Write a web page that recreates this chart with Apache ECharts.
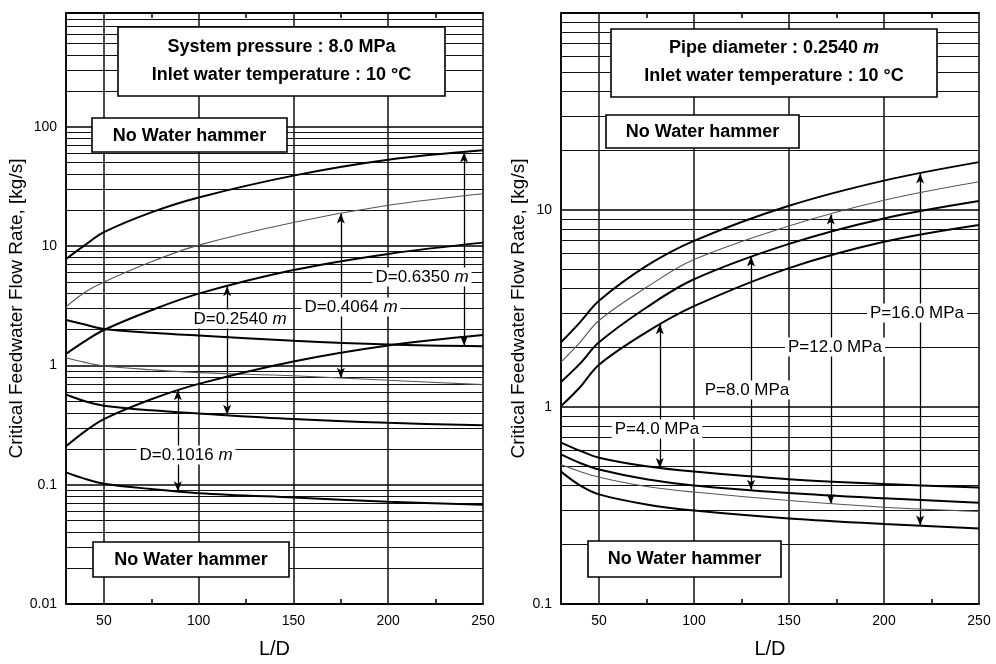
<!DOCTYPE html>
<html>
<head>
<meta charset="utf-8">
<title>Critical feedwater flow rate</title>
<script src="https://cdn.jsdelivr.net/npm/echarts@6/dist/echarts.min.js"></script>
<style>
  html, body { margin: 0; padding: 0; background: #fff; }
  #main { width: 996px; height: 664px; }
</style>
</head>
<body>
<div id="main"></div>
<script>
// L/D sample positions shared by every curve
var ld = [30, 40, 50, 75, 100, 150, 200, 250];
var ldLabels = [50, 100, 150, 200, 250];
var ldMinorTicks = [75, 125, 175, 225];

// left panel: system pressure 8.0 MPa, one pair of curves per pipe diameter
var d0635Upper = [7.8, 10.2, 13.1, 19.2, 25.6, 39, 53, 63.5];
var d0635Lower = [2.4, 2.2, 2.02, 1.88, 1.78, 1.61, 1.5, 1.45];
var d0406Upper = [3.1, 4.1, 5.0, 7.4, 10.2, 15.8, 22, 27.5];
var d0406Lower = [1.16, 1.06, 0.99, 0.92, 0.87, 0.82, 0.75, 0.69];
var d0254Upper = [1.25, 1.6, 1.98, 2.9, 4.0, 6.3, 8.6, 10.7];
var d0254Lower = [0.57, 0.5, 0.46, 0.42, 0.395, 0.355, 0.33, 0.315];
var d0102Upper = [0.21, 0.28, 0.355, 0.52, 0.70, 1.08, 1.47, 1.8];
var d0102Lower = [0.127, 0.112, 0.102, 0.092, 0.085, 0.078, 0.072, 0.068];

// right panel: pipe diameter 0.2540 m, one pair of curves per pressure
var p16Upper = [2.13, 2.69, 3.46, 5.2, 6.97, 10.5, 14.1, 17.5];
var p12Upper = [1.69, 2.13, 2.75, 4.05, 5.6, 8.3, 11.2, 13.9];
var p8Upper = [1.34, 1.66, 2.13, 3.2, 4.45, 6.73, 9.06, 11.1];
var p4Upper = [1.01, 1.26, 1.64, 2.4, 3.25, 5.07, 6.9, 8.4];
var p4Lower = [0.66, 0.6, 0.553, 0.5, 0.47, 0.43, 0.407, 0.39];
var p8Lower = [0.575, 0.52, 0.482, 0.43, 0.40, 0.366, 0.344, 0.327];
var p12Lower = [0.51, 0.47, 0.44, 0.395, 0.37, 0.335, 0.31, 0.295];
var p16Lower = [0.47, 0.40, 0.36, 0.32, 0.298, 0.272, 0.255, 0.242];

// double arrows: L/D position, upper end, lower end
var leftArrowX = [240, 175, 115, 89];
var leftArrowTop = [61, 18.8, 4.6, 0.62];
var leftArrowBottom = [1.47, 0.79, 0.385, 0.088];
var rightArrowX = [219, 172, 130, 82];
var rightArrowTop = [15.3, 9.5, 5.8, 2.63];
var rightArrowBottom = [0.25, 0.323, 0.38, 0.49];

var leftYTicks = ['0.01', '0.1', '1', '10', '100'];
var rightYTicks = ['0.1', '1', '10', '100'];

var FONT = '"Liberation Sans", Arial, Helvetica, sans-serif';
var yTitle = 'Critical Feedwater Flow Rate, [kg/s]';

function pairs(ys) {
	return ld.map(function (x, i) { return [x, ys[i]]; });
}

function curve(name, ys, gi, thin) {
	return {
		name: name,
		type: 'line',
		xAxisIndex: gi * 2,
		yAxisIndex: gi,
		data: pairs(ys),
		smooth: 0.35,
		showSymbol: false,
		symbol: 'none',
		z: 5,
		lineStyle: thin ? { color: '#555', width: 1.1 } : { color: '#000', width: 2 }
	};
}

// minor (2..9) log grid lines plus vertical L/D lines, drawn as silent mark lines
function gridLines(lowExp, highExp, max) {
	var data = [];
	for (var e = lowExp; e < highExp; e++) {
		for (var k = 2; k <= 9; k++) {
			var v = k * Math.pow(10, e);
			if (v < max * 0.99) data.push({ yAxis: v, lineStyle: { width: 1.1 } });
		}
	}
	[50, 100, 150, 200].forEach(function (x) { data.push({ xAxis: x, lineStyle: { width: 1.5 } }); });
	return {
		silent: true,
		symbol: 'none',
		label: { show: false },
		lineStyle: { color: '#111', type: 'solid' },
		emphasis: { disabled: true },
		data: data
	};
}

function arrowLines(xs, tops, bottoms) {
	return {
		silent: true,
		symbol: ['arrow', 'arrow'],
		symbolSize: [6, 10],
		label: { show: false },
		lineStyle: { color: '#000', width: 1.3, type: 'solid' },
		emphasis: { disabled: true },
		data: xs.map(function (x, i) {
			return [{ coord: [x, tops[i]] }, { coord: [x, bottoms[i]] }];
		})
	};
}

function holder(gi, markLine) {
	return {
		type: 'line',
		xAxisIndex: gi * 2,
		yAxisIndex: gi,
		data: [],
		symbol: 'none',
		z: 3,
		markLine: markLine
	};
}

function xAxes(gi) {
	return [{
		type: 'value', gridIndex: gi, min: 30, max: 250,
		name: 'L/D', nameLocation: 'middle', nameGap: 35,
		nameTextStyle: { fontFamily: FONT, fontSize: 20, color: '#000' },
		axisLine: { lineStyle: { color: '#000', width: 1.5 } },
		axisTick: { show: true, inside: true, length: 5, customValues: ldMinorTicks, lineStyle: { color: '#000', width: 1.5 } },
		axisLabel: { customValues: ldLabels, margin: 10, fontFamily: FONT, fontSize: 14, color: '#000' },
		splitLine: { show: false }
	}, {
		type: 'value', gridIndex: gi, min: 30, max: 250, position: 'top',
		axisLine: { lineStyle: { color: '#000', width: 1.5 } },
		axisTick: { show: true, inside: true, length: 5, customValues: ldMinorTicks, lineStyle: { color: '#000', width: 1.5 } },
		axisLabel: { show: false },
		splitLine: { show: false }
	}];
}

function yAxis(gi, min, max, labels, gap) {
	return {
		type: 'log', logBase: 10, gridIndex: gi, min: min, max: max,
		name: yTitle, nameLocation: 'middle', nameGap: gap,
		nameTextStyle: { fontFamily: FONT, fontSize: 19, color: '#000' },
		axisLine: { lineStyle: { color: '#000', width: 1.5 } },
		axisTick: { show: false },
		axisLabel: {
			margin: 9, fontFamily: FONT, fontSize: 14, color: '#000',
			showMaxLabel: false,
			formatter: function (v) {
				var e = Math.log(v) / Math.LN10;
				if (Math.abs(e - Math.round(e)) > 1e-6) return '';
				return labels[Math.round(e) - Math.round(Math.log(min) / Math.LN10)] || '';
			}
		},
		splitLine: { show: true, lineStyle: { color: '#000', width: 1.6 } }
	};
}

function box(x, y, w, h, lines, size) {
	var els = [{
		type: 'rect', z: 100,
		shape: { x: x, y: y, width: w, height: h },
		style: { fill: '#fff', stroke: '#000', lineWidth: 1.6 }
	}];
	lines.forEach(function (ln) {
		els.push({
			type: 'text', z: 101,
			style: {
				text: ln.text, x: x + w / 2, y: ln.y, align: 'center', verticalAlign: 'middle',
				fontFamily: FONT, fontSize: size, fontWeight: 'bold', fill: '#000',
				rich: {
					i: { fontFamily: FONT, fontSize: size, fontWeight: 'bold', fontStyle: 'italic' }
				}
			}
		});
	});
	return els;
}

function tag(cx, cy, text, size) {
	return {
		type: 'text', z: 101,
		style: {
			text: text, x: cx, y: cy, align: 'center', verticalAlign: 'middle',
			fontFamily: FONT, fontSize: size, fill: '#000',
			backgroundColor: '#fff', padding: [1, 3],
			rich: { i: { fontFamily: FONT, fontSize: size, fontStyle: 'italic' } }
		}
	};
}

var graphics = []
	.concat(box(118, 27, 327, 69, [
		{ text: 'System pressure : 8.0 MPa', y: 47 },
		{ text: 'Inlet water temperature : 10 °C', y: 75 }
	], 18))
	.concat(box(92, 118, 195, 34, [{ text: 'No Water hammer', y: 136 }], 18))
	.concat(box(93, 542, 196, 35, [{ text: 'No Water hammer', y: 560 }], 18))
	.concat(box(611, 29, 326, 68, [
		{ text: 'Pipe diameter : 0.2540 {i|m}', y: 48 },
		{ text: 'Inlet water temperature : 10 °C', y: 76 }
	], 18))
	.concat(box(606, 115, 193, 33, [{ text: 'No Water hammer', y: 132 }], 18))
	.concat(box(588, 541, 193, 36, [{ text: 'No Water hammer', y: 559 }], 18))
	.concat([
		tag(422, 277, 'D=0.6350 {i|m}', 17),
		tag(351, 307, 'D=0.4064 {i|m}', 17),
		tag(240, 319, 'D=0.2540 {i|m}', 17),
		tag(186, 455, 'D=0.1016 {i|m}', 17),
		tag(917, 313, 'P=16.0 MPa', 17),
		tag(835, 347, 'P=12.0 MPa', 17),
		tag(747, 390, 'P=8.0 MPa', 17),
		tag(657, 429, 'P=4.0 MPa', 17)
	]);

var chart = echarts.init(document.getElementById('main'), null, { renderer: 'canvas' });
chart.setOption({
	animation: false,
	backgroundColor: '#fff',
	grid: [
		{ left: 66, top: 13, width: 417, height: 594, show: true, borderColor: '#000', borderWidth: 1.5 },
		{ left: 561, top: 13, width: 418, height: 593, show: true, borderColor: '#000', borderWidth: 1.5 }
	],
	xAxis: xAxes(0).concat(xAxes(1)),
	yAxis: [
		yAxis(0, 0.01, 900, leftYTicks, 36),
		yAxis(1, 0.1, 100, rightYTicks, 30)
	],
	graphic: graphics,
	series: [
		holder(0, gridLines(-2, 3, 900)),
		holder(1, gridLines(-1, 2, 100)),
		curve('D=0.6350 upper', d0635Upper, 0),
		curve('D=0.6350 lower', d0635Lower, 0),
		curve('D=0.4064 upper', d0406Upper, 0, true),
		curve('D=0.4064 lower', d0406Lower, 0, true),
		curve('D=0.2540 upper', d0254Upper, 0),
		curve('D=0.2540 lower', d0254Lower, 0),
		curve('D=0.1016 upper', d0102Upper, 0),
		curve('D=0.1016 lower', d0102Lower, 0),
		curve('P=16.0 upper', p16Upper, 1),
		curve('P=12.0 upper', p12Upper, 1, true),
		curve('P=8.0 upper', p8Upper, 1),
		curve('P=4.0 upper', p4Upper, 1),
		curve('P=4.0 lower', p4Lower, 1),
		curve('P=8.0 lower', p8Lower, 1),
		curve('P=12.0 lower', p12Lower, 1, true),
		curve('P=16.0 lower', p16Lower, 1),
		holder(0, arrowLines(leftArrowX, leftArrowTop, leftArrowBottom)),
		holder(1, arrowLines(rightArrowX, rightArrowTop, rightArrowBottom))
	]
});
</script>
</body>
</html>
